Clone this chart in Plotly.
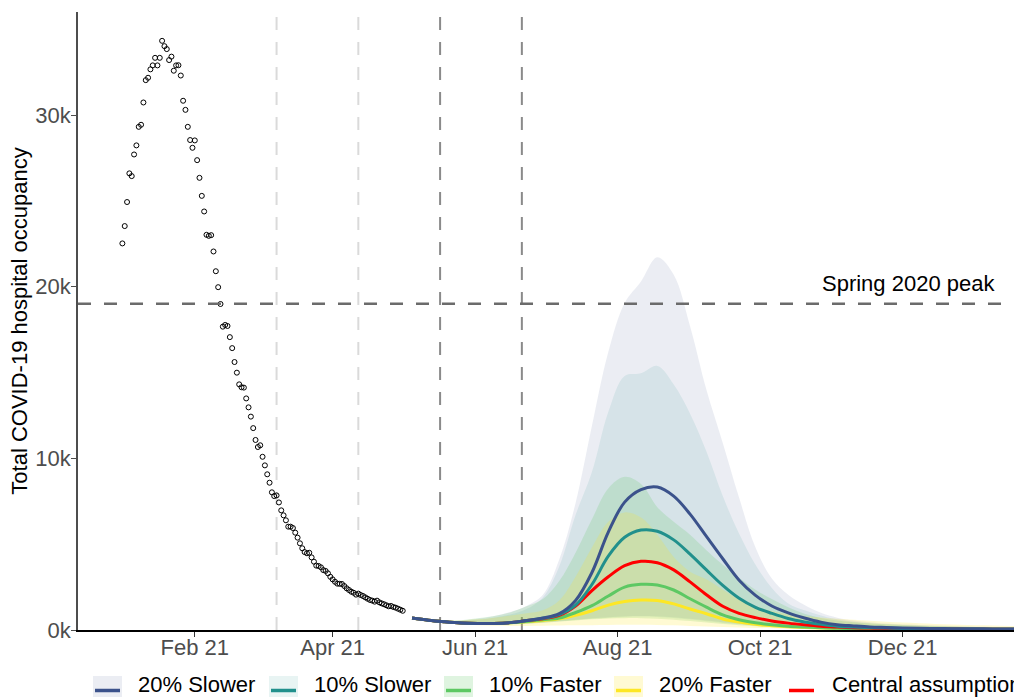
import pandas as pd
import plotly.graph_objects as go

# ---------------------------------------------------------------
# Observed total COVID-19 hospital occupancy (thousands), daily from 1 Jan 2021
# ---------------------------------------------------------------
obs_start = "2021-01-01"
obs_k = [
    22.52, 23.53, 24.93, 26.60, 26.44, 27.70, 28.23, 29.31, 29.43, 30.73,
    32.03, 32.17, 32.66, 32.89, 33.33, 32.89, 33.33, 34.32, 34.01, 33.84,
    33.20, 33.40, 32.58, 32.89, 32.90, 32.30, 30.83, 30.30, 29.31, 28.54,
    28.09, 28.52, 27.37, 26.34, 25.29, 24.38, 23.02, 22.96, 23.00, 22.05,
    20.90, 19.97, 18.99,
    17.67, 17.77, 17.71, 17.06, 16.42, 15.61, 14.99, 14.31, 14.14, 14.12,
    13.49, 12.97, 12.43, 11.76, 11.07, 10.66, 10.76, 10.09, 9.59, 9.07,
    8.58, 8.02, 7.80, 7.84, 7.43, 6.97, 6.68, 6.39, 6.02, 6.02,
    5.94, 5.67, 5.38, 5.05, 4.76, 4.54, 4.47, 4.50, 4.23, 3.98,
    3.75, 3.73, 3.65, 3.49, 3.44, 3.30, 3.10, 2.95, 2.81, 2.70,
    2.69, 2.68, 2.56, 2.43, 2.33, 2.23, 2.17, 2.06, 2.12, 2.04,
    1.98, 1.90, 1.82, 1.75, 1.71, 1.65, 1.71, 1.61, 1.55, 1.50,
    1.44, 1.38, 1.40, 1.34, 1.30, 1.24, 1.18, 1.12,
]

# ---------------------------------------------------------------
# Projections (thousands), weekly from 5 May 2021
# ---------------------------------------------------------------
proj_start = "2021-05-05"

slow20_mid = [0.70, 0.57, 0.48, 0.41, 0.38, 0.38, 0.43, 0.55, 0.70, 0.95,
              1.72, 3.35, 5.70, 7.45, 8.18, 8.33, 7.80, 6.75, 5.45, 4.15,
              2.90, 2.02, 1.40, 1.00, 0.70, 0.46, 0.31, 0.24, 0.18, 0.15,
              0.12, 0.10, 0.09, 0.08, 0.07, 0.07, 0.06, 0.06]
slow20_lo = [0.66, 0.52, 0.44, 0.38, 0.34, 0.33, 0.34, 0.38, 0.44, 0.52,
             0.60, 0.68, 0.75, 0.80, 0.82, 0.80, 0.74, 0.65, 0.55, 0.45,
             0.36, 0.29, 0.23, 0.18, 0.14, 0.11, 0.09, 0.07, 0.06, 0.05,
             0.05, 0.04, 0.04, 0.04, 0.03, 0.03, 0.03, 0.03]
slow20_hi = [0.75, 0.60, 0.52, 0.55, 0.65, 0.80, 1.05, 1.40, 2.05, 4.10,
             7.40, 11.90, 16.20, 19.05, 20.30, 21.72, 20.70, 17.70, 14.00, 10.90,
             7.70, 4.80, 3.00, 2.05, 1.45, 1.00, 0.72, 0.55, 0.45, 0.38,
             0.33, 0.29, 0.26, 0.23, 0.21, 0.19, 0.17, 0.16]

slow10_mid = [0.70, 0.57, 0.48, 0.41, 0.38, 0.38, 0.43, 0.55, 0.68, 0.90,
              1.45, 2.65, 4.30, 5.40, 5.82, 5.75, 5.25, 4.42, 3.50, 2.60,
              1.85, 1.32, 0.97, 0.67, 0.47, 0.33, 0.22, 0.17, 0.14, 0.11,
              0.09, 0.08, 0.07, 0.06, 0.06, 0.05, 0.05, 0.05]
slow10_lo = [0.66, 0.52, 0.44, 0.38, 0.34, 0.33, 0.34, 0.37, 0.42, 0.50,
             0.58, 0.66, 0.72, 0.76, 0.78, 0.76, 0.70, 0.61, 0.51, 0.41,
             0.33, 0.26, 0.20, 0.16, 0.12, 0.10, 0.08, 0.06, 0.05, 0.05,
             0.04, 0.04, 0.03, 0.03, 0.03, 0.03, 0.03, 0.03]
slow10_hi = [0.72, 0.58, 0.50, 0.52, 0.60, 0.72, 0.90, 1.22, 1.90, 3.70,
             6.70, 9.20, 12.70, 14.80, 14.95, 15.38, 14.30, 12.60, 10.40, 7.80,
             5.60, 3.80, 2.45, 1.55, 1.15, 0.85, 0.62, 0.48, 0.40, 0.34,
             0.29, 0.25, 0.22, 0.20, 0.18, 0.16, 0.15, 0.14]

fast10_mid = [0.70, 0.57, 0.48, 0.41, 0.38, 0.38, 0.42, 0.50, 0.60, 0.70,
              1.02, 1.42, 1.98, 2.50, 2.66, 2.62, 2.33, 1.82, 1.33, 0.88,
              0.60, 0.42, 0.30, 0.22, 0.17, 0.13, 0.10, 0.09, 0.08, 0.07,
              0.06, 0.06, 0.05, 0.05, 0.05, 0.05, 0.05, 0.05]
fast10_lo = [0.66, 0.52, 0.44, 0.38, 0.34, 0.33, 0.34, 0.37, 0.42, 0.49,
             0.56, 0.62, 0.67, 0.69, 0.69, 0.66, 0.60, 0.52, 0.43, 0.35,
             0.28, 0.22, 0.17, 0.13, 0.10, 0.08, 0.06, 0.05, 0.04, 0.04,
             0.03, 0.03, 0.03, 0.03, 0.03, 0.02, 0.02, 0.02]
fast10_hi = [0.72, 0.60, 0.55, 0.57, 0.68, 0.82, 1.02, 1.38, 1.80, 2.85,
             4.50, 6.45, 8.25, 8.92, 8.50, 7.15, 6.30, 5.55, 4.65, 3.80,
             3.05, 2.35, 1.80, 1.32, 0.95, 0.70, 0.55, 0.45, 0.38, 0.33,
             0.29, 0.26, 0.23, 0.21, 0.19, 0.17, 0.16, 0.15]

fast20_mid = [0.70, 0.57, 0.48, 0.41, 0.38, 0.38, 0.42, 0.48, 0.56, 0.66,
              0.85, 1.12, 1.45, 1.66, 1.75, 1.72, 1.52, 1.22, 0.95, 0.64,
              0.46, 0.33, 0.25, 0.19, 0.15, 0.12, 0.10, 0.08, 0.07, 0.06,
              0.06, 0.05, 0.05, 0.05, 0.05, 0.05, 0.05, 0.05]
fast20_lo = [0.66, 0.50, 0.40, 0.33, 0.28, 0.25, 0.24, 0.24, 0.25, 0.26,
             0.27, 0.28, 0.29, 0.30, 0.30, 0.29, 0.27, 0.24, 0.21, 0.18,
             0.15, 0.12, 0.10, 0.08, 0.07, 0.06, 0.05, 0.04, 0.04, 0.03,
             0.03, 0.03, 0.02, 0.02, 0.02, 0.02, 0.02, 0.02]
fast20_hi = [0.72, 0.60, 0.55, 0.56, 0.62, 0.72, 0.85, 0.98, 1.15, 1.72,
             3.10, 4.80, 6.30, 6.85, 6.55, 5.55, 4.25, 3.40, 2.95, 2.35,
             1.78, 1.38, 1.10, 0.92, 0.82, 0.73, 0.66, 0.60, 0.54, 0.48,
             0.43, 0.39, 0.35, 0.32, 0.29, 0.27, 0.25, 0.23]

central_mid = [0.70, 0.57, 0.48, 0.41, 0.38, 0.38, 0.43, 0.55, 0.66, 0.85,
               1.40, 2.30, 3.10, 3.75, 4.00, 3.92, 3.50, 2.80, 2.05, 1.38,
               0.97, 0.72, 0.53, 0.40, 0.30, 0.22, 0.17, 0.13, 0.11, 0.09,
               0.08, 0.07, 0.06, 0.06, 0.05, 0.05, 0.05, 0.05]

scenario_names = ["20% Slower", "10% Slower", "10% Faster", "20% Faster", "Central assumption"]
scenario_colors = ["#3B528B", "#21908C", "#5DC863", "#FDE725", "#FF0000"]
ribbon_alpha = [0.10, 0.10, 0.20, 0.20, 0.0]

# Roadmap step dates and reference level
step_dates = ["2021-03-08", "2021-04-12", "2021-05-17", "2021-06-21"]
step_colors = ["#DADADA", "#DADADA", "#8A8A8A", "#8A8A8A"]
spring_peak = 19000
spring_label = "Spring 2020 peak"

x_tick_dates = ["2021-02-01", "2021-04-01", "2021-06-01", "2021-08-01", "2021-10-01", "2021-12-01"]
x_tick_text = ["Feb 21", "Apr 21", "Jun 21", "Aug 21", "Oct 21", "Dec 21"]
y_tick_vals = [0, 10000, 20000, 30000]
y_tick_text = ["0k", "10k", "20k", "30k"]

FONT = "Liberation Sans, Arial, Helvetica, sans-serif"


def to_count(values):
    return [v * 1000 for v in values]


def rgba(hex_color, a):
    h = hex_color.lstrip("#")
    r, g, b = int(h[0:2], 16), int(h[2:4], 16), int(h[4:6], 16)
    return f"rgba({r},{g},{b},{a})"


obs_dates = pd.date_range(obs_start, periods=len(obs_k), freq="D")
proj_dates = pd.date_range(proj_start, periods=len(central_mid), freq="7D")

mids = [slow20_mid, slow10_mid, fast10_mid, fast20_mid, central_mid]
lows = [slow20_lo, slow10_lo, fast10_lo, fast20_lo]
highs = [slow20_hi, slow10_hi, fast10_hi, fast20_hi]

fig = go.Figure()

# Uncertainty ribbons
for i in range(4):
    fig.add_trace(go.Scatter(
        x=proj_dates, y=to_count(lows[i]), mode="lines",
        line=dict(width=0, shape="spline", smoothing=1.0),
        showlegend=False, hoverinfo="skip"))
    fig.add_trace(go.Scatter(
        x=proj_dates, y=to_count(highs[i]), mode="lines",
        line=dict(width=0, shape="spline", smoothing=1.0),
        fill="tonexty", fillcolor=rgba(scenario_colors[i], ribbon_alpha[i]),
        showlegend=False, hoverinfo="skip"))

# Central projections, drawn so the slowest scenario sits on top
for i in [3, 2, 4, 1, 0]:
    fig.add_trace(go.Scatter(
        x=proj_dates, y=to_count(mids[i]), mode="lines", name=scenario_names[i],
        line=dict(color=scenario_colors[i], width=3, shape="spline", smoothing=1.0),
        showlegend=False))

# Observed occupancy
fig.add_trace(go.Scatter(
    x=obs_dates, y=to_count(obs_k), mode="markers", name="Observed",
    marker=dict(symbol="circle-open", size=5, color="black", line=dict(width=1, color="black")),
    showlegend=False))

shapes = []
for d, c in zip(step_dates, step_colors):
    shapes.append(dict(type="line", xref="x", yref="paper", x0=d, x1=d, y0=0, y1=1,
                       line=dict(color=c, width=2, dash="13px,12px"), layer="below"))
shapes.append(dict(type="line", xref="paper", yref="y", x0=0, x1=1, y0=spring_peak, y1=spring_peak,
                   line=dict(color="#6B6B6B", width=2.5, dash="13px,13px"), layer="above"))

# Legend drawn below the axis: pale key boxes with a line through each
W, H = 1014, 697
ML, MR, MT, MB = 78, 0, 12, 67
PW, PH = W - ML - MR, H - MT - MB


def px_x(p):
    return (p - ML) / PW


def px_y(p):
    return (H - MB - p) / PH


legend_key_left = [93, 269, 444, 614, 787]
key_size = 29
key_top = 676
annotations = []
for i, name in enumerate(scenario_names):
    kx = legend_key_left[i]
    if ribbon_alpha[i] > 0:
        shapes.append(dict(type="rect", xref="paper", yref="paper",
                           x0=px_x(kx), x1=px_x(kx + key_size),
                           y0=px_y(key_top), y1=px_y(key_top + key_size),
                           fillcolor=rgba(scenario_colors[i], ribbon_alpha[i]),
                           line=dict(width=0), layer="above"))
    ky = key_top + key_size / 2
    shapes.append(dict(type="line", xref="paper", yref="paper",
                       x0=px_x(kx + 2), x1=px_x(kx + key_size - 2),
                       y0=px_y(ky), y1=px_y(ky),
                       line=dict(color=scenario_colors[i], width=3.5), layer="above"))
    annotations.append(dict(text=name, xref="paper", yref="paper",
                            x=px_x(kx + 43), y=px_y(684), xanchor="left", yanchor="middle",
                            showarrow=False, font=dict(family=FONT, size=22, color="black")))

annotations.append(dict(text=spring_label, xref="paper", yref="y", x=px_x(997), y=spring_peak,
                        xanchor="right", yanchor="bottom", yshift=6, showarrow=False,
                        font=dict(family=FONT, size=22, color="black")))

fig.update_layout(
    width=W, height=H,
    margin=dict(l=ML, r=MR, t=MT, b=MB, pad=0),
    paper_bgcolor="white", plot_bgcolor="white",
    font=dict(family=FONT, size=22, color="black"),
    showlegend=False,
    shapes=shapes,
    annotations=annotations,
)

fig.update_xaxes(
    type="date", range=["2020-12-13", "2022-01-17 16:00"],
    tickvals=x_tick_dates, ticktext=x_tick_text,
    showline=True, linecolor="black", linewidth=1.5,
    ticks="outside", ticklen=5, tickwidth=1.2, tickcolor="#333333",
    ticklabelstandoff=-8,
    tickfont=dict(family=FONT, size=22, color="#4D4D4D"),
    showgrid=False, zeroline=False,
)
fig.update_yaxes(
    range=[0, 36000],
    tickvals=y_tick_vals, ticktext=y_tick_text,
    showline=True, linecolor="#4D4D4D", linewidth=1.5,
    ticks="outside", ticklen=5, tickwidth=1.2, tickcolor="#4D4D4D",
    ticklabelstandoff=-4,
    tickfont=dict(family=FONT, size=22, color="#4D4D4D"),
    title=dict(text="Total COVID-19 hospital occupancy", font=dict(family=FONT, size=22, color="black"),
               standoff=2),
    showgrid=False, zeroline=False,
)

fig.write_html("out.html")
